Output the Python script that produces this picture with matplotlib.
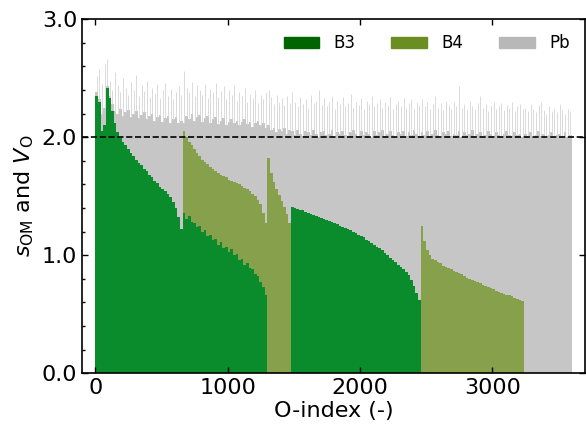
import numpy as np
import matplotlib
matplotlib.use('Agg')
import matplotlib.pyplot as plt
from matplotlib.patches import Patch
from matplotlib.ticker import MultipleLocator, FormatStrFormatter

# O-index of each bar (binned by 20)
step = 20
o_index = np.arange(0, 3600, step)

# segment 1: O bonded to B3 only (sorted)
seg1_b3 = [2.35, 2.30, 2.05, 2.10, 2.42, 2.33, 2.22, 2.12, 2.04, 1.99,
           1.96, 1.93, 1.90, 1.87, 1.84, 1.81, 1.78, 1.76, 1.73, 1.71,
           1.68, 1.66, 1.63, 1.61, 1.58, 1.56, 1.54, 1.52, 1.49, 1.45,
           1.40, 1.32, 1.22]
# segment 2: O bonded to B3 and B4 (B3 part, and top of B3+B4)
seg2_b3 = [1.36, 1.31, 1.33, 1.28, 1.27, 1.24, 1.25, 1.20, 1.21, 1.16,
           1.17, 1.13, 1.14, 1.09, 1.11, 1.06, 1.07, 1.03, 1.05, 1.00,
           1.01, 0.96, 0.97, 0.92, 0.93, 0.89, 0.88, 0.84, 0.82, 0.77,
           0.73, 0.66]
seg2_top = [2.05, 2.00, 1.96, 1.93, 1.90, 1.87, 1.84, 1.81, 1.79, 1.77,
            1.75, 1.73, 1.71, 1.70, 1.68, 1.67, 1.66, 1.64, 1.63, 1.62,
            1.61, 1.60, 1.59, 1.57, 1.56, 1.54, 1.52, 1.50, 1.47, 1.43,
            1.36, 1.27]
# segment 3: B4 only
seg3_b4 = [1.82, 1.70, 1.62, 1.56, 1.51, 1.46, 1.41, 1.35, 1.27]
# segment 4: B3 only
seg4_b3 = [1.41, 1.40, 1.39, 1.385, 1.38, 1.37, 1.36, 1.35, 1.34, 1.33,
           1.32, 1.315, 1.31, 1.30, 1.29, 1.28, 1.27, 1.26, 1.25, 1.24,
           1.23, 1.22, 1.21, 1.20, 1.19, 1.17, 1.16, 1.15, 1.13, 1.12,
           1.10, 1.09, 1.07, 1.06, 1.04, 1.02, 1.00, 0.98, 0.96, 0.94,
           0.92, 0.90, 0.88, 0.86, 0.83, 0.79, 0.74, 0.68, 0.62]
# segment 5: B4 only
seg5_b4 = [1.25, 1.12, 1.04, 1.00, 0.97, 0.96, 0.94, 0.93, 0.91, 0.90,
           0.89, 0.88, 0.87, 0.86, 0.85, 0.84, 0.82, 0.81, 0.80, 0.79,
           0.78, 0.77, 0.76, 0.75, 0.74, 0.73, 0.72, 0.71, 0.70, 0.69,
           0.68, 0.67, 0.665, 0.66, 0.65, 0.64, 0.63, 0.62, 0.61]
# segment 6: Pb only
n_seg6 = 18

# V_O (dense top of the stack) per bar
v_top = [2.38, 2.32, 2.20, 2.25, 2.43, 2.35, 2.28, 2.22, 2.20, 2.24,
         2.18, 2.21, 2.23, 2.17, 2.20, 2.22, 2.16, 2.19, 2.21, 2.15,
         2.18, 2.20, 2.14, 2.17, 2.19, 2.13, 2.16, 2.18, 2.12, 2.15,
         2.17, 2.12, 2.14,
         2.12, 2.18, 2.15, 2.20, 2.14, 2.17, 2.19, 2.13, 2.16, 2.18,
         2.12, 2.15, 2.17, 2.11, 2.14, 2.16, 2.10, 2.13, 2.15, 2.12,
         2.14, 2.10, 2.13, 2.15, 2.11, 2.13, 2.09, 2.12, 2.14, 2.10,
         2.12, 2.08,
         2.10, 2.06, 2.08, 2.04, 2.07, 2.05, 2.08, 2.03, 2.06,
         2.05, 2.02, 2.06, 2.03, 2.01, 2.05, 2.04, 2.02, 2.06, 2.03,
         2.00, 2.04, 2.05, 2.02, 2.03, 2.06, 2.01, 2.04, 2.03, 2.05,
         2.02, 2.00, 2.04, 2.06, 2.03, 2.01, 2.05, 2.02, 2.04, 2.03,
         2.00, 2.05, 2.02, 2.04, 2.06, 2.01, 2.03, 2.05, 2.02, 2.00,
         2.04, 2.03, 2.05, 2.01, 2.04, 2.02, 2.06, 2.03, 2.01,
         2.04, 2.02, 2.05, 2.01, 2.03, 2.06, 2.02, 2.00, 2.04, 2.03,
         2.05, 2.01, 2.03, 2.02, 2.05, 2.00, 2.04, 2.02, 2.03, 2.06,
         2.01, 2.03, 2.04, 2.00, 2.02, 2.05, 2.03, 2.01, 2.04, 2.02,
         2.00, 2.03, 2.05, 2.02, 2.01, 2.04, 2.02, 2.03, 2.00,
         2.03, 2.01, 2.04, 2.00, 2.02, 2.05, 2.01, 2.03, 1.99, 2.02,
         2.04, 2.00, 2.02, 2.03, 2.01, 2.04, 2.00, 2.02]
# highest single values (thin spikes above the dense part)
v_spike = [2.52, 2.58, 2.45, 2.62, 2.66, 2.48, 2.40, 2.55, 2.44, 2.38,
           2.50, 2.42, 2.36, 2.47, 2.40, 2.53, 2.35, 2.44, 2.39, 2.48,
           2.34, 2.42, 2.37, 2.45, 2.33, 2.40, 2.46, 2.35, 2.41, 2.32,
           2.38, 2.43, 2.36,
           2.56, 2.42, 2.38, 2.47, 2.35, 2.44, 2.40, 2.36, 2.45, 2.33,
           2.41, 2.38, 2.46, 2.34, 2.39, 2.43, 2.32, 2.40, 2.36, 2.44,
           2.31, 2.38, 2.35, 2.42, 2.30, 2.37, 2.33, 2.40, 2.29, 2.36,
           2.32, 2.38,
           2.40, 2.34, 2.28, 2.36, 2.30, 2.33, 2.27, 2.35, 2.29,
           2.38, 2.30, 2.26, 2.34, 2.28, 2.32, 2.25, 2.36, 2.29, 2.31,
           2.40, 2.27, 2.33, 2.26, 2.30, 2.35, 2.24, 2.31, 2.28, 2.34,
           2.26, 2.29, 2.37, 2.25, 2.30, 2.27, 2.33, 2.24, 2.31, 2.28,
           2.35, 2.26, 2.29, 2.32, 2.25, 2.30, 2.27, 2.34, 2.24, 2.28,
           2.31, 2.26, 2.33, 2.25, 2.29, 2.32, 2.24, 2.30, 2.27,
           2.32, 2.26, 2.30, 2.24, 2.28, 2.35, 2.25, 2.29, 2.23, 2.31,
           2.27, 2.24, 2.30, 2.26, 2.43, 2.25, 2.28, 2.23, 2.31, 2.26,
           2.24, 2.29, 2.35, 2.25, 2.28, 2.22, 2.27, 2.30, 2.24, 2.26,
           2.29, 2.23, 2.27, 2.25, 2.30, 2.22, 2.26, 2.28, 2.24,
           2.25, 2.22, 2.28, 2.24, 2.21, 2.27, 2.30, 2.23, 2.20, 2.26,
           2.22, 2.25, 2.21, 2.28, 2.23, 2.20, 2.24, 2.22]

# build stacked series
z = np.zeros
b3 = np.concatenate([seg1_b3, seg2_b3, z(len(seg3_b4)), seg4_b3,
                     z(len(seg5_b4)), z(n_seg6)])
b4 = np.concatenate([z(len(seg1_b3)), np.array(seg2_top) - np.array(seg2_b3),
                     seg3_b4, z(len(seg4_b3)), seg5_b4, z(n_seg6)])
total = np.maximum(np.array(v_top), b3 + b4)
pb = total - b3 - b4

c_b3, c_b4, c_pb = '#0a8c2d', '#86a04c', '#c6c6c6'

fig = plt.figure(figsize=(5.86, 4.26), dpi=100)
ax = fig.add_axes([0.14, 0.124, 0.858, 0.831])

ax.bar(o_index, b3, width=step, align='edge', color=c_b3, linewidth=0)
ax.bar(o_index, b4, width=step, align='edge', bottom=b3, color=c_b4, linewidth=0)
ax.bar(o_index, pb, width=step, align='edge', bottom=b3 + b4, color=c_pb, linewidth=0)
ax.vlines(o_index + step / 2, total, v_spike, color='#dadada', lw=0.7)
ax.axhline(2.0, color='k', ls='--', lw=1.2)

ax.set_xlim(-100, 3700)
ax.set_ylim(0, 3.0)
ax.yaxis.set_major_locator(MultipleLocator(1.0))
ax.yaxis.set_minor_locator(MultipleLocator(0.2))
ax.yaxis.set_major_formatter(FormatStrFormatter('%.1f'))
ax.xaxis.set_major_locator(MultipleLocator(1000))
ax.tick_params(which='major', direction='in', top=True, right=True,
               length=4.5, width=1, labelsize=16)
ax.tick_params(which='minor', direction='in', right=False, length=2.5, width=1)
for s in ax.spines.values():
    s.set_linewidth(1.2)

ax.set_xlabel('O-index (-)', fontsize=16, labelpad=2)
ax.set_ylabel(r'$s_{\rm OM}$ and $V_{\rm O}$', fontsize=16)

handles = [Patch(color='#006400', label='B3'), Patch(color='#6b8e23', label='B4'),
           Patch(color='#b8b8b8', label='Pb')]
ax.legend(handles=handles, loc='upper right', ncol=3, frameon=False, fontsize=12,
          handlelength=2.15, handletextpad=0.85, columnspacing=2.15,
          bbox_to_anchor=(1.0, 1.0))

plt.savefig('out.png', dpi=100)
